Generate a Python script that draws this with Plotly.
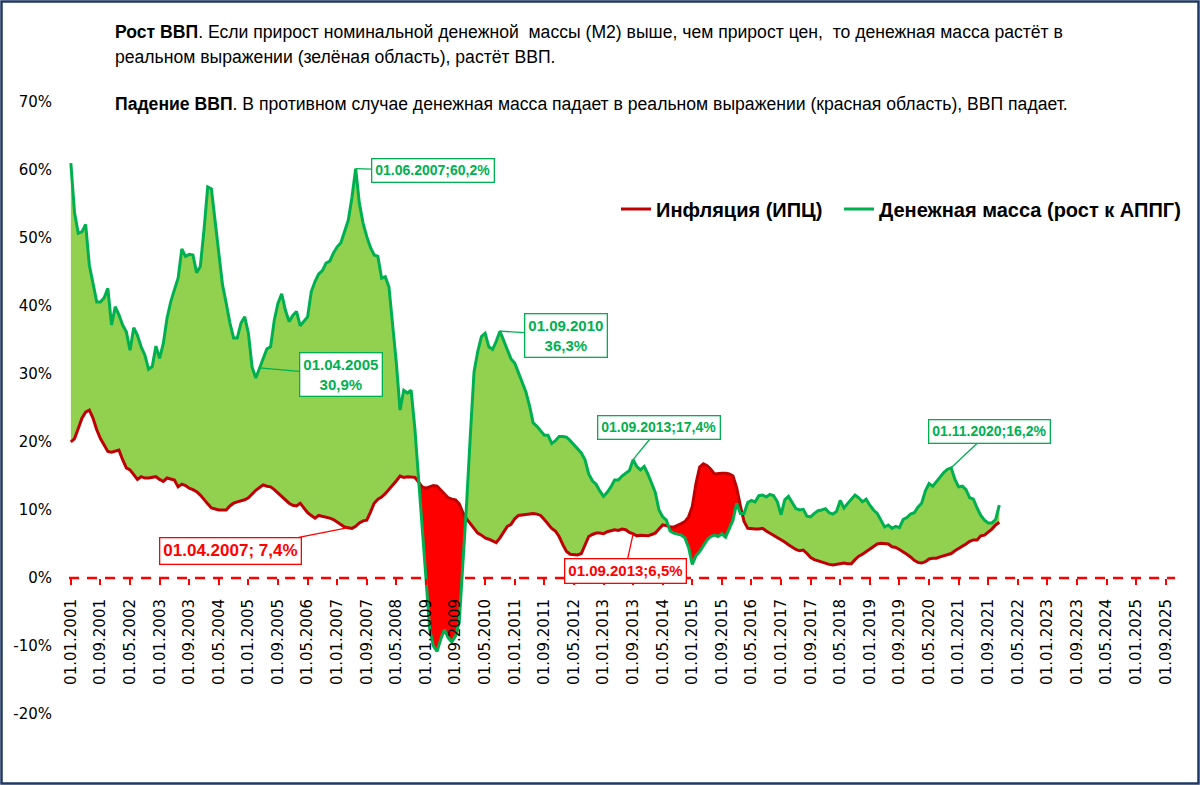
import plotly.graph_objects as go

# ---------------- DATA ----------------
tick_labels = [
    "01.01.2001", "01.09.2001", "01.05.2002", "01.01.2003", "01.09.2003", "01.05.2004",
    "01.01.2005", "01.09.2005", "01.05.2006", "01.01.2007", "01.09.2007", "01.05.2008",
    "01.01.2009", "01.09.2009", "01.05.2010", "01.01.2011", "01.09.2011", "01.05.2012",
    "01.01.2013", "01.09.2013", "01.05.2014", "01.01.2015", "01.09.2015", "01.05.2016",
    "01.01.2017", "01.09.2017", "01.05.2018", "01.01.2019", "01.09.2019", "01.05.2020",
    "01.01.2021", "01.09.2021", "01.05.2022", "01.01.2023", "01.09.2023", "01.05.2024",
    "01.01.2025", "01.09.2025",
]
last_category = "01.12.2025"

y_tick_values = [-20, -10, 0, 10, 20, 30, 40, 50, 60, 70]
y_tick_labels = ["-20%", "-10%", "0%", "10%", "20%", "30%", "40%", "50%", "60%", "70%"]

# Money supply M2, growth y/y, %, monthly from 01.01.2001
m2_growth = [
    61.0, 53.7, 50.7, 50.9, 52.0, 46.0, 43.3, 40.6, 40.6, 41.2, 42.6, 37.2,   # 2001
    39.9, 38.7, 37.2, 36.2, 33.5, 36.8, 35.7, 34.0, 32.8, 30.7, 31.1, 34.1,   # 2002
    32.3, 34.5, 38.2, 40.6, 42.4, 44.1, 48.4, 47.3, 47.6, 47.5, 44.9, 45.8,   # 2003
    51.2, 57.5, 57.2, 52.2, 48.2, 43.1, 40.4, 37.5, 35.3, 35.3, 37.5, 38.4,   # 2004
    36.0, 31.0, 29.4, 30.9, 32.3, 33.7, 34.0, 37.9, 40.4, 41.8, 39.4, 37.7,   # 2005
    38.6, 39.2, 37.1, 37.7, 38.4, 42.1, 43.6, 44.7, 45.2, 46.3, 46.6, 47.8,   # 2006
    48.7, 49.3, 50.8, 52.6, 56.0, 60.2, 55.1, 52.2, 50.2, 48.6, 47.5, 47.3,   # 2007
    44.1, 44.3, 42.8, 37.5, 31.6, 24.7, 27.6, 27.2, 27.6, 22.0, 15.0, 7.5,    # 2008
    0.0, -7.5, -10.0, -10.8, -9.0, -7.6, -8.8, -9.4, -8.5, -6.5, 1.5, 11.0,   # 2009
    21.0, 30.3, 33.3, 35.5, 36.0, 34.0, 33.6, 34.8, 36.3, 35.0, 33.5, 32.2,   # 2010
    31.6, 30.1, 28.6, 27.4, 25.3, 22.8, 22.3, 21.7, 21.0, 21.0, 19.8, 20.2,   # 2011
    20.8, 20.8, 20.7, 20.2, 19.6, 19.1, 18.4, 17.4, 15.3, 14.3, 13.8, 12.8,   # 2012
    12.0, 12.6, 13.4, 14.4, 14.4, 15.0, 15.4, 15.8, 17.4, 16.4, 15.9, 16.4,   # 2013
    15.3, 13.8, 12.6, 10.0, 9.0, 8.5, 6.9, 6.6, 6.5, 6.3, 5.9, 4.5,           # 2014
    2.0, 3.3, 3.9, 4.8, 5.6, 6.1, 6.3, 6.1, 6.5, 6.0, 7.4, 8.5,               # 2015
    11.0, 9.5, 9.5, 11.1, 11.4, 11.2, 12.1, 12.2, 11.9, 12.3, 12.1, 11.2,     # 2016
    9.3, 11.5, 12.0, 11.0, 10.2, 10.0, 10.1, 9.1, 9.0, 9.5, 9.9, 10.0,        # 2017
    10.2, 9.6, 9.4, 9.8, 11.4, 10.3, 11.0, 11.6, 12.2, 11.8, 11.2, 11.6,      # 2018
    10.7, 10.0, 9.5, 8.4, 7.5, 7.8, 7.3, 7.6, 7.4, 8.6, 8.9, 9.4,             # 2019
    9.6, 10.4, 11.0, 12.8, 13.9, 13.5, 14.2, 14.9, 15.5, 16.0, 16.2, 14.5,    # 2020
    13.4, 13.5, 13.0, 11.8, 11.6, 10.3, 9.2, 8.5, 8.1, 8.1, 8.6, 10.7,        # 2021
]

# Inflation (CPI), y/y, %, monthly from 01.01.2001
cpi_inflation = [
    20.0, 20.5, 22.0, 23.5, 24.4, 24.7, 23.5, 21.8, 20.5, 19.6, 18.6, 18.5,   # 2001
    18.6, 18.8, 17.4, 16.2, 15.9, 15.2, 14.5, 14.9, 14.7, 14.7, 14.8, 14.9,   # 2002
    14.5, 14.2, 14.7, 14.5, 14.4, 13.4, 13.8, 13.6, 13.2, 13.0, 12.7, 12.2,   # 2003
    11.5, 10.9, 10.3, 10.1, 10.0, 10.0, 10.0, 10.6, 11.0, 11.2, 11.3, 11.5,   # 2004
    11.8, 12.4, 12.9, 13.3, 13.7, 13.5, 13.4, 13.0, 12.5, 12.1, 11.6, 11.0,   # 2005
    10.7, 10.6, 11.0, 10.3, 9.6, 9.2, 8.8, 9.2, 9.1, 9.0, 8.8, 8.6,           # 2006
    8.2, 7.8, 7.5, 7.4, 7.3, 7.6, 8.1, 8.4, 8.5, 9.7, 11.0, 11.6,             # 2007
    11.9, 12.4, 13.0, 13.6, 14.3, 15.0, 14.8, 14.9, 14.8, 14.8, 14.1, 13.4,   # 2008
    13.2, 13.4, 13.6, 13.5, 12.9, 12.3, 11.8, 11.6, 11.5, 10.9, 9.6, 8.7,     # 2009
    8.0, 7.3, 6.6, 6.3, 5.9, 5.7, 5.5, 5.2, 5.9, 6.8, 7.6, 7.9,               # 2010
    8.7, 9.2, 9.3, 9.3, 9.4, 9.5, 9.4, 9.2, 8.6, 8.0, 7.3, 6.9,               # 2011
    6.1, 4.9, 3.9, 3.5, 3.4, 3.4, 3.6, 5.0, 6.1, 6.4, 6.6, 6.6,               # 2012
    6.5, 6.8, 6.9, 7.1, 7.0, 7.2, 7.1, 6.7, 6.5, 6.2, 6.3, 6.3,               # 2013
    6.2, 6.4, 6.6, 7.2, 7.8, 7.7, 7.5, 7.5, 7.7, 8.0, 8.3, 9.0,               # 2014
    10.5, 13.9, 16.3, 16.8, 16.5, 16.0, 15.3, 15.4, 15.4, 15.4, 15.3, 15.0,   # 2015
    13.3, 10.6, 8.3, 7.3, 7.2, 7.2, 7.2, 7.3, 6.9, 6.6, 6.2, 5.9,             # 2016
    5.6, 5.3, 4.9, 4.5, 4.2, 4.0, 4.1, 3.6, 3.0, 2.7, 2.5, 2.3,               # 2017
    2.2, 2.0, 1.9, 2.0, 2.1, 2.2, 2.1, 2.1, 2.7, 3.2, 3.5, 3.9,               # 2018
    4.3, 4.7, 5.0, 5.1, 5.0, 5.0, 4.6, 4.5, 4.2, 3.9, 3.5, 3.1,               # 2019
    2.6, 2.3, 2.2, 2.4, 2.8, 2.9, 2.9, 3.1, 3.3, 3.4, 3.6, 4.0,               # 2020
    4.3, 4.7, 5.0, 5.4, 5.6, 5.6, 6.2, 6.3, 6.7, 7.2, 7.8, 8.2,               # 2021
]

series_names = ["Инфляция (ИПЦ)", "Денежная масса (рост к АППГ)"]

# callouts: (series, date, text)
callouts = [
    ("m2", "01.06.2007", "01.06.2007;60,2%"),
    ("m2", "01.04.2005", "01.04.2005<br>30,9%"),
    ("cpi", "01.04.2007", "01.04.2007; 7,4%"),
    ("m2", "01.09.2010", "01.09.2010<br>36,3%"),
    ("m2", "01.09.2013", "01.09.2013;17,4%"),
    ("cpi", "01.09.2013", "01.09.2013;6,5%"),
    ("m2", "01.11.2020", "01.11.2020;16,2%"),
]

text_growth = ("<b>Рост ВВП</b>. Если прирост номинальной денежной  массы (М2) выше, "
               "чем прирост цен,  то денежная масса растёт в")
text_growth2 = "реальном выражении (зелёная область), растёт ВВП."
text_fall = ("<b>Падение ВВП</b>. В противном случае денежная масса падает в реальном "
             "выражении (красная область), ВВП падает.")

# ---------------- HELPERS ----------------
def month_index(lbl):
    d, m, y = lbl.split(".")
    return (int(y) - 2001) * 12 + int(m) - 1

n = len(m2_growth)
idx = list(range(n))
tick_vals = [month_index(t) for t in tick_labels]
x_max = month_index(last_category)

# build fill arrays with crossing points inserted
X, A, B = [], [], []
for i in range(n):
    if i > 0:
        d0 = m2_growth[i - 1] - cpi_inflation[i - 1]
        d1 = m2_growth[i] - cpi_inflation[i]
        if d0 * d1 < 0:
            t = d0 / (d0 - d1)
            xc = i - 1 + t
            yc = cpi_inflation[i - 1] + t * (cpi_inflation[i] - cpi_inflation[i - 1])
            X.append(xc); A.append(yc); B.append(yc)
    X.append(i); A.append(m2_growth[i]); B.append(cpi_inflation[i])
hi = [max(a, b) for a, b in zip(A, B)]
lo = [min(a, b) for a, b in zip(A, B)]

GREEN_FILL = "#92D050"
RED_FILL = "#FF0000"
GREEN_LINE = "#00B050"
RED_LINE = "#C00000"

fig = go.Figure()
fig.add_trace(go.Scatter(x=X, y=B, mode="lines", line=dict(width=0), showlegend=False, hoverinfo="skip"))
fig.add_trace(go.Scatter(x=X, y=hi, mode="lines", line=dict(width=0), fill="tonexty",
                         fillcolor=GREEN_FILL, showlegend=False, hoverinfo="skip"))
fig.add_trace(go.Scatter(x=X, y=lo, mode="lines", line=dict(width=0), showlegend=False, hoverinfo="skip"))
fig.add_trace(go.Scatter(x=X, y=B, mode="lines", line=dict(width=0), fill="tonexty",
                         fillcolor=RED_FILL, showlegend=False, hoverinfo="skip"))
fig.add_trace(go.Scatter(x=idx, y=cpi_inflation, mode="lines", name=series_names[0],
                         line=dict(color=RED_LINE, width=3), legend="legend"))
fig.add_trace(go.Scatter(x=idx, y=m2_growth, mode="lines", name=series_names[1],
                         line=dict(color=GREEN_LINE, width=3), legend="legend2"))

W, H = 1200, 785
L, R, T, Bm = 69, 25, 102, 71
pw, ph = W - L - R, H - T - Bm

def px_x(p):
    return (p - L) / pw

def px_y(p):
    return (H - Bm - p) / ph

legend_font = dict(family="Liberation Sans", size=20, color="black", weight="bold")

fig.update_layout(
    width=W, height=H,
    margin=dict(l=L, r=R, t=T, b=Bm, pad=0),
    paper_bgcolor="white", plot_bgcolor="white",
    hovermode=False,
    font=dict(family="Liberation Sans", color="black"),
    legend=dict(orientation="h", x=px_x(616), y=px_y(209), xanchor="left", yanchor="middle",
                font=legend_font, bgcolor="rgba(0,0,0,0)"),
    legend2=dict(orientation="h", x=px_x(839), y=px_y(209), xanchor="left", yanchor="middle",
                 font=legend_font, bgcolor="rgba(0,0,0,0)"),
    xaxis=dict(range=[-0.5, x_max - 0.5], tickvals=tick_vals, ticktext=tick_labels,
               tickangle=-90, anchor="free", position=(0 - (-20)) / (70 - (-20)),
               showgrid=False, zeroline=False, showline=False,
               ticks="outside", ticklen=6, tickcolor="#FF0000", tickwidth=1.5,
               ticklabelstandoff=8,
               tickfont=dict(family="DejaVu Sans", size=15, color="black")),
    yaxis=dict(range=[-20, 70], tickvals=y_tick_values, ticktext=y_tick_labels,
               showgrid=False, zeroline=False, showline=False, ticks="",
               ticklabelstandoff=16,
               tickfont=dict(family="DejaVu Sans", size=15, color="black")),
)

# zero dashed line
fig.add_shape(type="line", xref="x", yref="y", x0=-0.5, x1=x_max - 0.5, y0=0, y1=0,
              line=dict(color="#FF0000", width=2.5, dash="10px,8px"), layer="above")

# frame
fig.add_shape(type="rect", xref="paper", yref="paper",
              x0=px_x(1.5), x1=px_x(W - 1.5), y0=px_y(H - 1.5), y1=px_y(1.5),
              line=dict(color="#1F3864", width=2.5), fillcolor="rgba(0,0,0,0)", layer="above")

# header text
for txt, py in [(text_growth, 32), (text_growth2, 57), (text_fall, 104)]:
    fig.add_annotation(text=txt, xref="paper", yref="paper", x=px_x(113), y=px_y(py),
                       xanchor="left", yanchor="middle", showarrow=False,
                       font=dict(family="Liberation Sans", size=17.6, color="black"))

# callouts
offsets = {
    ("m2", "01.06.2007"): (77, 2, 14),
    ("m2", "01.04.2005"): (81, 7, 15),
    ("cpi", "01.04.2007"): (-118, 23, 17),
    ("m2", "01.09.2010"): (66, 4, 15),
    ("m2", "01.09.2013"): (26, -32, 14),
    ("cpi", "01.09.2013"): (-8, 37, 15),
    ("m2", "01.11.2020"): (38, -36, 14),
}
for ser, date, txt in callouts:
    i = month_index(date)
    val = m2_growth[i] if ser == "m2" else cpi_inflation[i]
    col = GREEN_LINE if ser == "m2" else RED_FILL
    ax, ay, fs = offsets[(ser, date)]
    fig.add_annotation(x=i, y=val, xref="x", yref="y", text="<b>" + txt + "</b>",
                       showarrow=True, ax=ax, ay=ay, arrowhead=0, arrowwidth=1.3,
                       arrowcolor=col, standoff=0,
                       font=dict(family="Liberation Sans", size=fs, color=col),
                       bordercolor=col, borderwidth=1.3, borderpad=3, bgcolor="white")

fig.write_html("out.html", config={"displayModeBar": False},
               post_script="document.body.style.margin='0';")
